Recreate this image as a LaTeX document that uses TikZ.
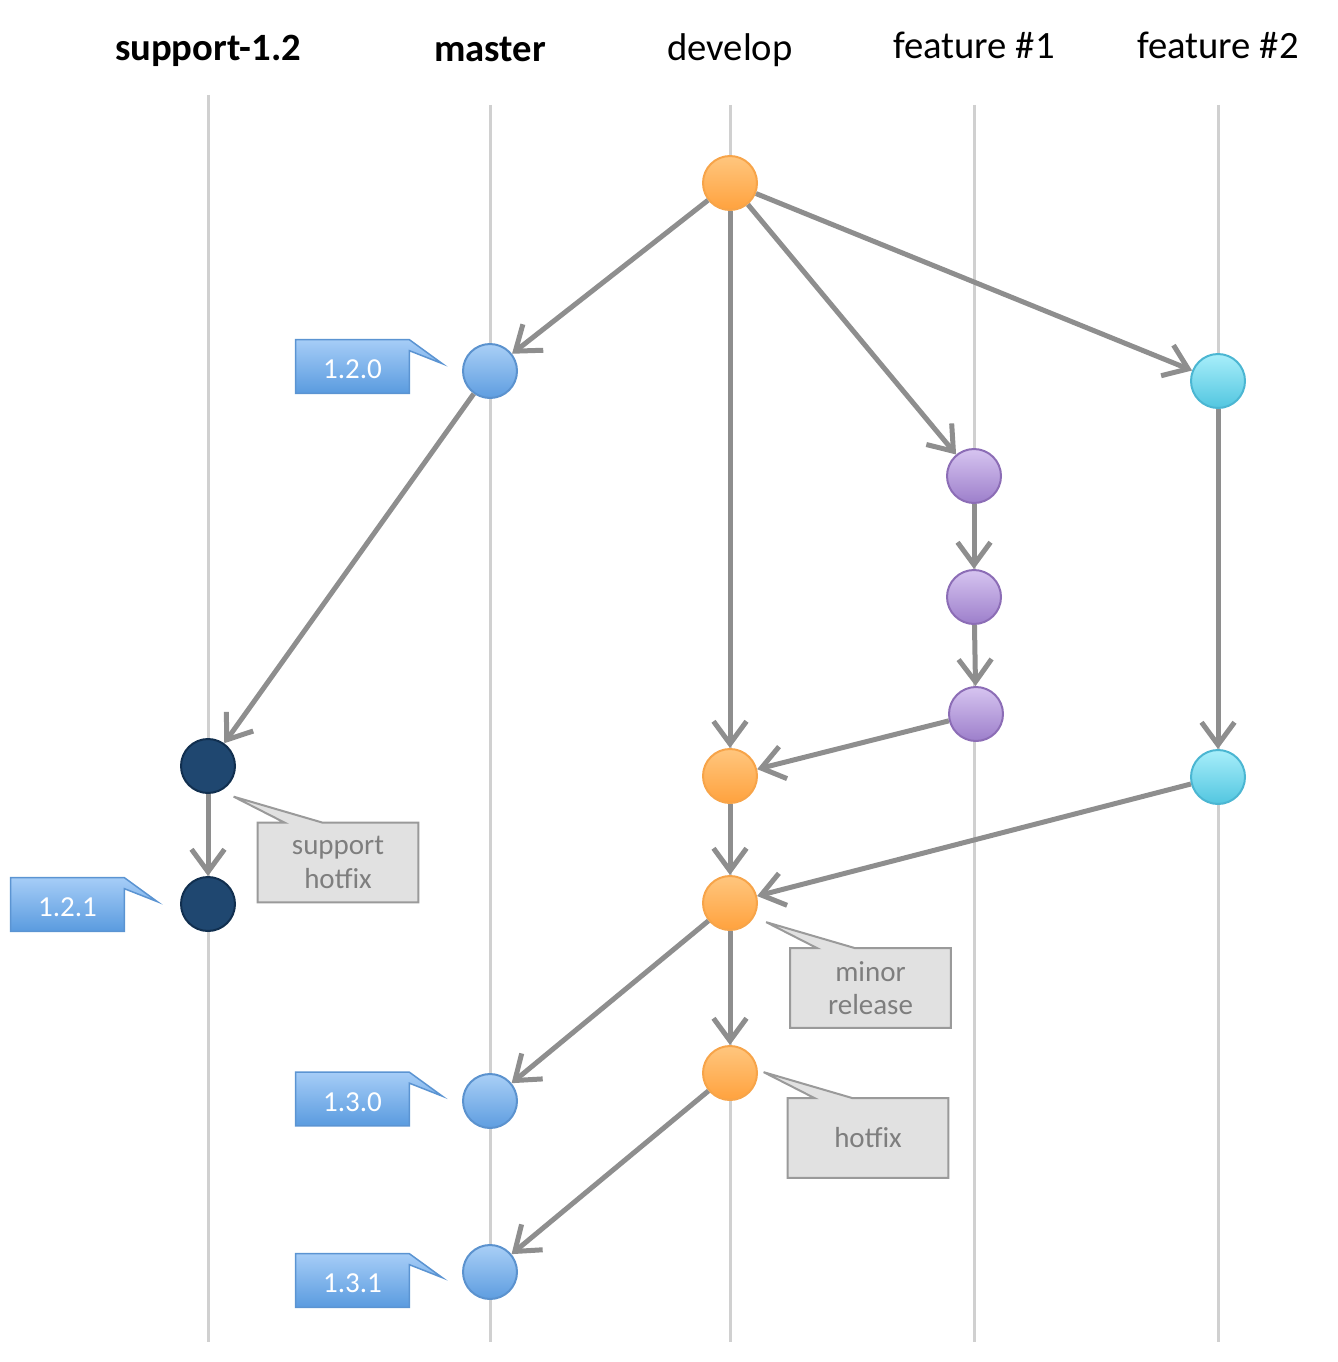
\documentclass[tikz,border=0pt]{standalone}
\usepackage{fontspec}
\setmainfont{Carlito}
\definecolor{flowgray}{HTML}{8E8E8E}
\definecolor{lanegray}{HTML}{D0D0D0}
\definecolor{devtop}{HTML}{FFC67E}
\definecolor{devbot}{HTML}{FFA23E}
\definecolor{devborder}{HTML}{F7A449}
\definecolor{mastop}{HTML}{A9CFF6}
\definecolor{masbot}{HTML}{5E9DE0}
\definecolor{masborder}{HTML}{5B92CE}
\definecolor{feattop}{HTML}{A8EEFA}
\definecolor{featbot}{HTML}{52C6E0}
\definecolor{featborder}{HTML}{4BB6D2}
\definecolor{ftop}{HTML}{D6C4F0}
\definecolor{fbot}{HTML}{9D7FCB}
\definecolor{fborder}{HTML}{8C6DB6}
\definecolor{supfill}{HTML}{1F4770}
\definecolor{supborder}{HTML}{112F4F}
\definecolor{tagtop}{HTML}{A6CDF7}
\definecolor{tagbot}{HTML}{5A9BDF}
\definecolor{tagborder}{HTML}{5B94D2}
\definecolor{notefill}{HTML}{E1E1E1}
\definecolor{noteborder}{HTML}{9A9A9A}
\definecolor{notetextc}{HTML}{7E7E7E}
\usetikzlibrary{arrows.meta, calc, backgrounds}

\begin{document}
\begin{tikzpicture}[
      x=0.02cm, y=-0.02cm,
      lane/.style={draw=lanegray, line width=0.06cm},
      commit/.style={circle, minimum size=1.08cm, inner sep=0pt, line width=0.04cm},
      devc/.style={commit, draw=devborder, top color=devtop, bottom color=devbot},
      masc/.style={commit, draw=masborder, top color=mastop, bottom color=masbot},
      featc/.style={commit, draw=featborder, top color=feattop, bottom color=featbot},
      fonec/.style={commit, draw=fborder, top color=ftop, bottom color=fbot},
      supc/.style={commit, draw=supborder, fill=supfill},
      arr/.style={draw=flowgray, line width=0.1cm,
                  -{Straight Barb[length=0.45cm, width=0.66cm]}},
      head/.style={font=\fontsize{22}{26}\selectfont, anchor=base},
      tagtext/.style={minimum width=2.26cm, minimum height=1.06cm, inner sep=0pt,
                      text height=0.5cm, text=white, font=\fontsize{16.5}{19}\selectfont},
      tagshape/.style={draw=tagborder, line width=0.03cm, top color=tagtop, bottom color=tagbot},
      notetext/.style={minimum width=3.2cm, minimum height=1.58cm, inner sep=0pt,
                       align=center, text=notetextc, font=\fontsize{16.5}{19}\selectfont},
      noteshape/.style={draw=noteborder, fill=notefill, line width=0.04cm}
    ]
      \useasboundingbox (0,0) rectangle (1338,1362);

      % Branch headers
      \node[head, font=\fontsize{22}{26}\selectfont\bfseries] (hsup) at (208,61) {support-1.2};
      \node[head, font=\fontsize{22}{26}\selectfont\bfseries] (hmas) at (490,62) {master};
      \node[head] (hdev) at (730,61) {develop};
      \node[head] (hfone) at (974,59) {feature \#1};
      \node[head] (hftwo) at (1218,59) {feature \#2};

      % Commits
      \node[devc] (d1) at (730,183) {};
      \node[masc] (m1) at (490,371) {};
      \node[featc] (fb1) at (1218,381) {};
      \node[fonec] (fa1) at (974,476) {};
      \node[fonec] (fa2) at (974,597) {};
      \node[fonec] (fa3) at (976,714) {};
      \node[supc] (s1) at (208,766) {};
      \node[devc] (d2) at (730,776) {};
      \node[featc] (fb2) at (1218,777) {};
      \node[supc] (s2) at (208,904) {};
      \node[devc] (d3) at (730,903) {};
      \node[devc] (d4) at (730,1073) {};
      \node[masc] (m2) at (490,1101) {};
      \node[masc] (m3) at (490,1272) {};

      % Version tags
      \node[tagtext] (t120) at (352.5,366.5) {1.2.0};
      \node[tagtext] (t121) at (67.5,904.5) {1.2.1};
      \node[tagtext] (t130) at (352.5,1099) {1.3.0};
      \node[tagtext] (t131) at (352.5,1280.5) {1.3.1};

      % Notes
      \node[notetext] (nsup) at (338,862.5) {support\\hotfix};
      \node[notetext] (nminor) at (870.5,988) {minor\\release};
      \node[notetext] (nfix) at (868,1138) {hotfix};

      \begin{pgfonlayer}{background}
        % Lanes
        \draw[lane] (208,95) -- (208,1342);
        \foreach \lx in {490,730,974,1218}
          \draw[lane] (\lx,105) -- (\lx,1342);
        % Tag shapes
        \foreach \t in {t120,t121,t130,t131}
          \path[tagshape] (\t.south west) -- (\t.north west) -- (\t.north east)
            -- ++(33,24) -- ($(\t.north east)+(0,11)$) -- (\t.south east) -- cycle;
        % Note shapes
        \foreach \n in {nsup,nminor,nfix}
          \path[noteshape] (\n.south west) -- (\n.north west) -- ($(\n.north west)+(27,0)$)
            -- ($(\n.north west)+(-24,-26)$) -- ($(\n.north west)+(65,0)$)
            -- (\n.north east) -- (\n.south east) -- cycle;
      \end{pgfonlayer}

      % Arrows
      \draw[arr] (d1) -- (m1);
      \draw[arr] (d1) -- (d2);
      \draw[arr] (d1) -- (fa1);
      \draw[arr] (d1) -- (fb1);
      \draw[arr] (m1) -- (s1);
      \draw[arr] (fa1) -- (fa2);
      \draw[arr] (fa2) -- (fa3);
      \draw[arr] (fa3) -- (d2);
      \draw[arr] (fb1) -- (fb2);
      \draw[arr] (s1) -- (s2);
      \draw[arr] (d2) -- (d3);
      \draw[arr] (fb2) -- (d3);
      \draw[arr] (d3) -- (m2);
      \draw[arr] (d3) -- (d4);
      \draw[arr] (d4) -- (m3);

    \end{tikzpicture}
\end{document}
